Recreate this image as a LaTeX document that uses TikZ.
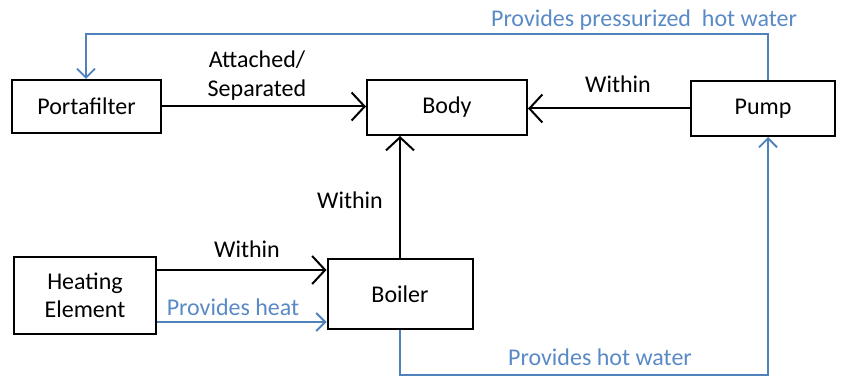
\documentclass[tikz,border=0pt]{standalone}
\usepackage{fontspec}
\setmainfont{Carlito}
\usetikzlibrary{arrows.meta}
\definecolor{lblue}{HTML}{4F81BD}
\definecolor{tblue}{HTML}{5A8AC6}
\tikzset{
  box/.style={draw=black, line width=2pt, fill=white, inner sep=0pt, align=center, font=\fontsize{24}{28}\selectfont},
  lbl/.style={inner sep=0pt, anchor=base, align=center, font=\fontsize{24}{29}\selectfont},
  blbl/.style={lbl, text=tblue},
  blk/.style={draw=black, line width=2pt, -{Straight Barb[length=13pt,width=28pt,line width=2pt]}},
  blu/.style={draw=lblue, line width=1.8pt, -{Straight Barb[length=9pt,width=18pt,line width=1.8pt]}}
}
\begin{document}
\begin{tikzpicture}[x=1pt,y=-1pt]
\useasboundingbox (0,0) rectangle (843,379);
\node[box, minimum width=149pt, minimum height=53pt] (porta) at (86.5,106.5) {Portafilter};
\node[box, minimum width=160pt, minimum height=55pt] (body) at (447,107.5) {Body};
\node[box, minimum width=144pt, minimum height=55pt] (pump) at (763,108.5) {Pump};
\node[box, minimum width=142pt, minimum height=77pt] (heat) at (85,295.5) {Heating\\Element};
\node[box, minimum width=145pt, minimum height=70pt] (boiler) at (400,294) {Boiler};

\draw[blk] (porta.east) -- (porta.east -| body.west);
\draw[blk] (pump.west) -- (pump.west -| body.east);
\draw[blk] (boiler.north) -- (boiler.north |- body.south);
\draw[blk] ([yshift=25.5pt]heat.east) -- ([yshift=25.5pt]heat.east -| boiler.west);
\draw[blu] ([yshift=-26.5pt]heat.east) -- ([yshift=-26.5pt]heat.east -| boiler.west);
\draw[blu] (boiler.south) -- ++(0,45) -| ([xshift=5pt]pump.south);
\draw[blu] ([xshift=5pt]pump.north) -- ++(0,-46) -| ([xshift=-0.5pt]porta.north);

\node[lbl] (att) at (257,97) {Attached/\\Separated};
\node[lbl] (w1) at (618,93) {Within};
\node[lbl] (w2) at (350,209) {Within};
\node[lbl] (w3) at (247,258) {Within};
\node[blbl] (ph) at (233,315) {Provides heat};
\node[blbl] (phw) at (600,365) {Provides hot water};
\node[blbl] (ppw) at (644,27) {Provides pressurized\ \ hot water};
\end{tikzpicture}
\end{document}
